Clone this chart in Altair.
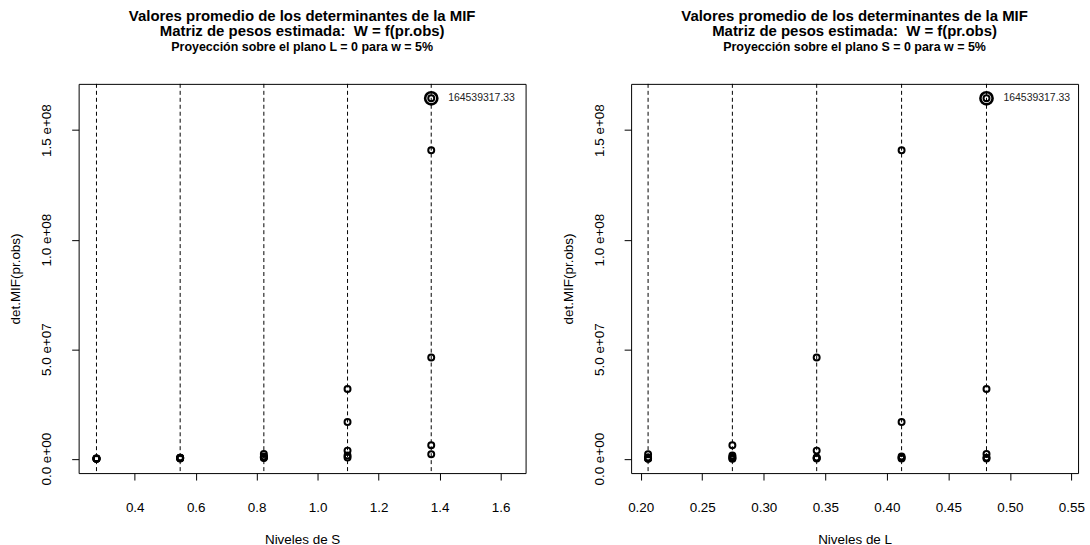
import altair as alt
import pandas as pd

# ---- data ----
S_levels = [0.2745, 0.549, 0.8235, 1.098, 1.3725]
L_levels = [0.206, 0.2745, 0.343, 0.412, 0.481]
# det.MIF values, one row per S level, across the L levels
det_S1 = [0.02e6, 0.03e6, 0.05e6, 0.08e6, 0.10e6]
det_S2 = [0.10e6, 0.20e6, 0.30e6, 0.40e6, 0.50e6]
det_S3 = [0.30e6, 0.80e6, 0.60e6, 1.00e6, 2.20e6]
det_S4 = [0.60e6, 1.50e6, 3.70e6, 16.8e6, 31.8e6]
det_S5 = [2.00e6, 6.10e6, 46.2e6, 140.8e6, 164539317.33]
det_rows = [det_S1, det_S2, det_S3, det_S4, det_S5]

x_ticks_S = [0.4, 0.6, 0.8, 1.0, 1.2, 1.4, 1.6]
x_ticks_L = [0.20, 0.25, 0.30, 0.35, 0.40, 0.45, 0.50, 0.55]
y_ticks = [0, 5e7, 1e8, 1.5e8]
y_tick_labels = ["0.0 e+00", "5.0 e+07", "1.0 e+08", "1.5 e+08"]
max_label = "164539317.33"

title_1 = "Valores promedio de los determinantes de la MIF"
title_2 = "Matriz de pesos estimada:\u00a0 W = f(pr.obs)"
sub_left = "Proyección sobre el plano L = 0 para w = 5%"
sub_right = "Proyección sobre el plano S = 0 para w = 5%"

rows = []
for s, vals in zip(S_levels, det_rows):
    for l, v in zip(L_levels, vals):
        rows.append({"S": s, "L": l, "det": v})
df = pd.DataFrame(rows)
vmax = df["det"].max()
df_max = df[df["det"] == vmax].assign(label=max_label)

y_domain = [-6.56e6, 171.12e6]
xS_domain = [0.216, 1.682]
xL_domain = [0.1922, 0.5554]

FONT = "Liberation Sans"
W, H = 449, 391

label_expr = " : ".join(
    f"datum.value == {int(v)} ? '{t}'" for v, t in zip(y_ticks, y_tick_labels)
) + " : ''"


def panel(xfield, levels, domain, ticks, fmt, xtitle, subtitle):
    xscale = alt.Scale(domain=domain, nice=False, zero=False)
    yscale = alt.Scale(domain=y_domain, nice=False, zero=False)
    xaxis = alt.Axis(values=ticks, format=fmt, title=xtitle, grid=False,
                     tickSize=7, tickColor="black", domain=False,
                     labelFont=FONT, labelFontSize=13.5, labelColor="black",
                     labelPadding=21, titleFont=FONT, titleFontSize=13.5,
                     titleFontWeight="normal", titleColor="black", titlePadding=18,
                     labelFlush=False)
    yaxis = alt.Axis(values=y_ticks, labelExpr=label_expr, title="det.MIF(pr.obs)",
                     grid=False, tickSize=7, tickColor="black", domain=False,
                     labelAngle=-90, labelAlign="center", labelBaseline="bottom",
                     labelFont=FONT, labelFontSize=13.5, labelColor="black",
                     labelPadding=18, titleFont=FONT, titleFontSize=13.5,
                     titleFontWeight="normal", titleColor="black", titlePadding=17,
                     labelFlush=False)

    lev_df = pd.DataFrame({xfield: levels})
    rules = alt.Chart(lev_df).mark_rule(
        color="black", strokeWidth=1, strokeDash=[4, 3]
    ).encode(x=alt.X(f"{xfield}:Q", scale=xscale, axis=xaxis))

    pts = alt.Chart(df).mark_point(
        shape="circle", filled=False, color="black", strokeWidth=2, size=36, opacity=1
    ).encode(
        x=alt.X(f"{xfield}:Q", scale=xscale, axis=xaxis),
        y=alt.Y("det:Q", scale=yscale, axis=yaxis),
    )

    big = alt.Chart(df_max).mark_point(
        shape="circle", filled=False, color="black", strokeWidth=2.6, size=150, opacity=1
    ).encode(
        x=alt.X(f"{xfield}:Q", scale=xscale),
        y=alt.Y("det:Q", scale=yscale),
    )

    txt = alt.Chart(df_max).mark_text(
        align="left", baseline="middle", dx=17, font=FONT, fontSize=10.5, color="#222"
    ).encode(
        x=alt.X(f"{xfield}:Q", scale=xscale),
        y=alt.Y("det:Q", scale=yscale),
        text="label:N",
    )

    return alt.layer(rules, pts, big, txt).properties(
        width=W, height=H,
        title=alt.TitleParams(
            text=[title_1, title_2], subtitle=subtitle,
            font=FONT, fontSize=15, fontWeight="bold", color="black", lineHeight=15.5,
            subtitleFont=FONT, subtitleFontSize=12.5, subtitleFontWeight="bold",
            subtitleColor="black", subtitlePadding=2,
            anchor="middle", frame="group", offset=30,
        ),
    )


left = panel("S", S_levels, xS_domain, x_ticks_S, ".1f", "Niveles de S", sub_left)
right = panel("L", L_levels, xL_domain, x_ticks_L, ".2f", "Niveles de L", sub_right)

chart = alt.hconcat(left, right, spacing=34).properties(
    padding={"left": 8, "top": 7, "right": 5, "bottom": 0},
    background="white",
).configure_view(stroke="black", strokeWidth=1)

chart.save("out.html", embed_options={"renderer": "svg", "actions": False})
